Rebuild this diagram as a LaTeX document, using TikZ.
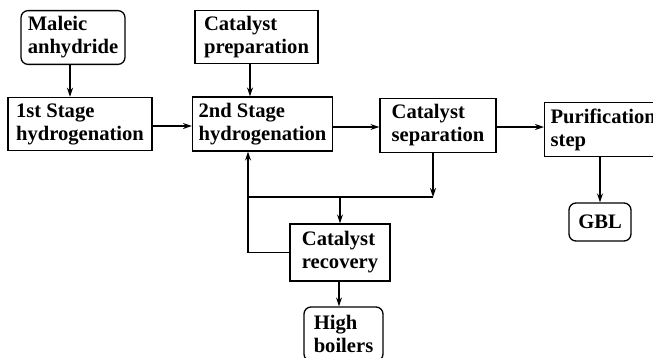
\documentclass[tikz,border=0pt]{standalone}
\usepackage{fontspec}
\setmainfont{Liberation Serif}
\usetikzlibrary{positioning, calc, arrows.meta}
\tikzset{
	arrow/.style={line width=1.3pt, -{Stealth[length=9pt, width=6pt]}},
	line/.style={line width=1.3pt},
	stage/.style={draw, line width=1.3pt, align=left, inner sep=6pt, font=\fontsize{20.6}{23}\selectfont\bfseries},
	feed/.style={stage, rounded corners=7pt},
}

\begin{document}
\begin{tikzpicture}[x=1pt, y=-1pt]
	\useasboundingbox (0,0) rectangle (653,357);
	% Feeds
	\node[feed, minimum width=104pt, minimum height=53pt] (maleic) at (73,37.5) {Maleic\\anhydride};
	\node[stage, minimum width=123pt, minimum height=52pt] (catprep) at (256.5,37) {Catalyst\\preparation};

	% Main line
	\node[stage, minimum width=144pt, minimum height=44pt] (stage1) at (80,124) {1st Stage\\hydrogenation};
	\node[stage, minimum width=135pt, minimum height=44pt] (stage2) at (262.5,124) {2nd Stage\\hydrogenation};
	\node[stage, minimum width=116pt, minimum height=43pt] (catsep) at (438,125.5) {Catalyst\\separation};
	\node[stage, anchor=north west, text width=112pt, minimum height=48pt] (purif) at (544,102) {Purification\\step};

	% Products and recycle
	\node[feed, minimum width=62pt, minimum height=38pt, align=center] (gbl) at (600,222) {GBL};
	\node[stage, minimum width=100pt, minimum height=57pt] (recovery) at (340,252.5) {Catalyst\\recovery};
	\node[feed, minimum width=79pt, minimum height=54pt] (boilers) at (343.5,334) {High\\boilers};

	\coordinate (join) at (433,197);
	\coordinate (split) at (340,197);
	\coordinate (loop) at (248,197);

	\draw[arrow] (maleic.south -| 70,0) -- (stage1.north -| 70,0);
	\draw[arrow] (catprep.south -| 250,0) -- (stage2.north -| 250,0);
	\draw[arrow] (stage1.east |- 0,126) -- (stage2.west |- 0,126);
	\draw[arrow] (stage2.east |- 0,127) -- (catsep.west |- 0,127);
	\draw[arrow] (catsep.east |- 0,127) -- (purif.west |- 0,127);
	\draw[arrow] (purif.south -| gbl) -- (gbl);

	\draw[arrow] (catsep.south -| join) -- (join);
	\draw[line] (join) -- (loop);
	\draw[arrow] (split) -- (recovery);
	\draw[arrow] (recovery.west) -| (stage2.south -| loop);
	\draw[arrow] (recovery.south -| 339,0) -- (boilers.north -| 339,0);
\end{tikzpicture}
\end{document}
